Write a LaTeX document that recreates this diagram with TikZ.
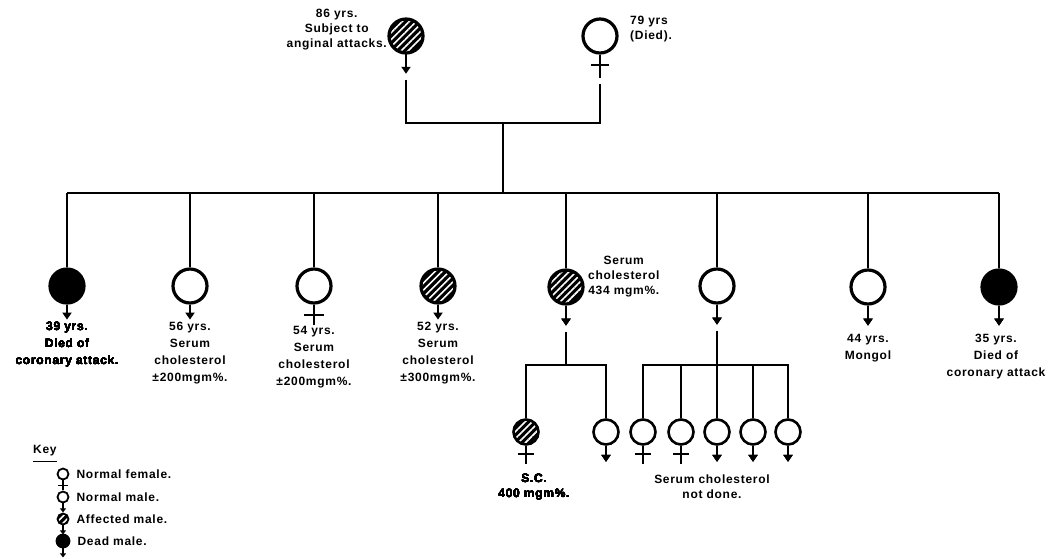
\documentclass[tikz,border=0pt]{standalone}
\usepackage{fontspec}
\setmainfont[LetterSpace=6]{Liberation Sans}
\usetikzlibrary{arrows.meta,patterns.meta,positioning}
\tikzset{
  conn/.style={line width=1.8pt},
  indiv/.style={circle,draw,line width=3.2pt,minimum size=34pt,inner sep=0pt,fill=white},
  grand/.style={indiv,line width=2.6pt,minimum size=25pt},
  keysym/.style={indiv,line width=1.8pt,minimum size=11pt},
  affected/.style={preaction={fill=black},pattern={Lines[angle=45,distance=5pt,line width=1.6pt]},pattern color=white},
  dead/.style={fill=black},
  lbl/.style={font=\bfseries\fontsize{12}{17}\selectfont,align=center,inner sep=0pt},
  tight/.style={font=\bfseries\fontsize{12}{15}\selectfont},
  mtip/.style={-{Triangle[width=9pt,length=7pt]}},
}
% male: arrow below the circle; female: cross below the circle
\newcommand{\maletail}[3][2pt]{\draw[line width=#1,mtip] (#2.south) -- ++(0,#3);}
\newcommand{\femaletail}[5][2pt]{\draw[line width=#1] (#2.south) -- ++(0,#3) (#2.south) ++(-#4,#5) -- ++({2*#4},0);}
\begin{document}
\begin{tikzpicture}[x=1pt,y=-1pt]
  \useasboundingbox (0,0) rectangle (1050,558);
  % grandparents
  \node[indiv,affected] (gf) at (406,36) {};
  \node[indiv] (gm) at (600,36) {};
  \maletail{gf}{20}
  \femaletail{gm}{23}{9}{10}
  \node[lbl,tight,anchor=east] (gf-l) at (387,30) {86 yrs.\\Subject to\\anginal attacks.};
  \node[lbl,tight,align=left,anchor=west] (gm-l) at (630,29) {79 yrs\\(Died).};
  \coordinate (mate) at (503,123);
  \coordinate (sib) at (503,193);
  \draw[conn] (gf.south) ++(0,26) |- (mate);
  \draw[conn] (gm.south) ++(0,29) |- (mate);
  \draw[conn] (mate) -- (sib);
  % children
  \node[indiv,dead] (c1) at (67,286) {};
  \node[indiv] (c2) at (190,286) {};
  \node[indiv] (c3) at (314,286) {};
  \node[indiv,affected] (c4) at (438,286) {};
  \node[indiv,affected] (c5) at (566,287) {};
  \node[indiv] (c6) at (717,286) {};
  \node[indiv] (c7) at (868,287) {};
  \node[indiv,dead] (c8) at (999,287) {};
  \draw[conn] (c1 |- sib) -- (c8 |- sib);
  \foreach \c in {c1,c2,c3,c4,c5,c6,c7,c8}
    \draw[conn] (\c |- sib) -- (\c.north);
  \foreach \c in {c1,c2,c4}
    \maletail{\c}{15}
  \femaletail{c3}{20}{10}{10}
  \foreach \c in {c5,c6,c7,c8}
    \maletail{\c}{20}
  \node[lbl,anchor=north] (c1-l) at (67,322) {39 yrs.\\Died of\\coronary attack.};
  \node[lbl,anchor=north] (c2-l) at (190,322) {56 yrs.\\Serum\\cholesterol\\±200mgm\%.};
  \node[lbl,anchor=north] (c3-l) at (314,326) {54 yrs.\\Serum\\cholesterol\\±200mgm\%.};
  \node[lbl,anchor=north] (c4-l) at (438,322) {52 yrs.\\Serum\\cholesterol\\±300mgm\%.};
  \node[lbl,tight,anchor=west] (c5-l) at (588,277) {Serum\\cholesterol\\434 mgm\%.};
  \node[lbl,anchor=north] (c7-l) at (868,334) {44 yrs.\\Mongol};
  \node[lbl,anchor=north] (c8-l) at (996,334) {35 yrs.\\Died of\\coronary attack};
  % grandchildren
  \node[grand,affected] (gc1) at (526,432) {};
  \node[grand] (gc2) at (606,432) {};
  \node[grand] (gc3) at (643,432) {};
  \node[grand] (gc4) at (681,432) {};
  \node[grand] (gc5) at (717,432) {};
  \node[grand] (gc6) at (753,432) {};
  \node[grand] (gc7) at (788,432) {};
  \coordinate (s5) at (566,365);
  \coordinate (s6) at (717,365);
  \draw[conn] (c5.south) ++(0,26) -- (s5);
  \draw[conn] (gc1.north) |- (s5) -| (gc2.north);
  \draw[conn] (c6.south) ++(0,26) -- (gc5.north);
  \draw[conn] (gc3.north) |- (s6) -| (gc7.north);
  \draw[conn] (gc4.north) -- (gc4 |- s6);
  \draw[conn] (gc6.north) -- (gc6 |- s6);
  \foreach \g in {gc1,gc3,gc4}
    \femaletail{\g}{18}{8}{8}
  \foreach \g in {gc2,gc5,gc6,gc7}
    \maletail{\g}{16}
  \node[lbl,tight] (gc1-l) at (534,487) {S.C.\\400 mgm\%.};
  \node[lbl,tight] (gc-l) at (712,487) {Serum cholesterol\\not done.};
  % key
  \node[lbl,anchor=west] (key) at (33,451) {Key};
  \draw[line width=1.5pt] ([yshift=-5pt]key.south west) -- ([yshift=-5pt]key.south east);
  \node[keysym] (k1) at (63,474) {};
  \node[keysym] (k2) at (63,497) {};
  \node[keysym,affected] (k3) at (63,519) {};
  \node[keysym,dead,minimum size=13pt] (k4) at (63,541) {};
  \femaletail[1.5pt]{k1}{10}{5}{5}
  \foreach \k in {k2,k3,k4}
    \draw[line width=1.5pt,-{Triangle[width=6pt,length=4pt]}] (\k.south) -- ++(0,9);
  \node[lbl,anchor=west,right=7pt of k1] (k1-l) {Normal female.};
  \node[lbl,anchor=west,right=7pt of k2] (k2-l) {Normal male.};
  \node[lbl,anchor=west,right=7pt of k3] (k3-l) {Affected male.};
  \node[lbl,anchor=west,right=7pt of k4] (k4-l) {Dead male.};
\end{tikzpicture}
\end{document}
